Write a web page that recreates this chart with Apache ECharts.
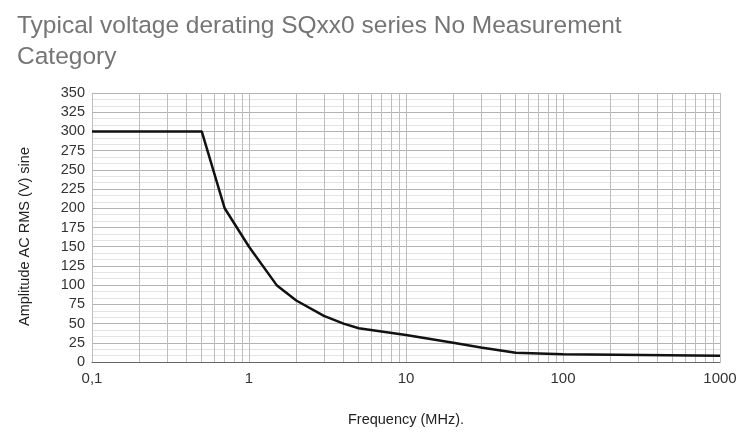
<!DOCTYPE html>
<html>
<head>
<meta charset="utf-8">
<script src="https://cdn.jsdelivr.net/npm/echarts@6/dist/echarts.min.js"></script>
<style>
  html, body { margin: 0; padding: 0; background: #fff; }
  #chart { width: 753px; height: 434px; }
</style>
</head>
<body>
<div id="chart"></div>
<script>
// data
const frequency = [0.1, 0.5, 0.7, 1, 1.5, 2, 3, 4, 5, 10, 20, 30, 50, 100, 1000];
const amplitude = [300, 300, 200, 150, 100, 80, 60, 50, 44, 35, 25, 19, 12, 10, 8];
const decades = [0.1, 1, 10, 100];
const steps = [2, 3, 4, 5, 6, 7, 8, 9];

window.addEventListener('DOMContentLoaded', function() {
    initChart();
});

function initChart() {
    const myChart = echarts.init(document.getElementById('chart'));

    // thin vertical lines between the decades
    const minorLines = [];
    decades.forEach(d => {
        steps.forEach(s => {
            minorLines.push({ xAxis: +(d * s).toPrecision(3) });
        });
    });

    const option = {
        backgroundColor: '#fff',
        textStyle: { fontFamily: 'Liberation Sans, Arial, sans-serif' },
        title: {
            text: 'Typical voltage derating SQxx0 series No Measurement\nCategory',
            left: 12,
            top: 6,
            textStyle: {
                fontSize: 24.5,
                fontWeight: 'normal',
                color: '#757575',
                lineHeight: 31
            }
        },
        grid: {
            left: 92,
            right: 33,
            top: 93,
            bottom: 72
        },
        xAxis: {
            type: 'log',
            logBase: 10,
            min: 0.1,
            max: 1000,
            name: 'Frequency (MHz).',
            nameLocation: 'middle',
            nameGap: 50,
            nameTextStyle: { fontSize: 14.5, color: '#222' },
            axisLine: { lineStyle: { color: '#666', width: 1 } },
            axisTick: { show: false },
            axisLabel: {
                fontSize: 15,
                color: '#333',
                margin: 9,
                formatter: v => String(v).replace('.', ',')
            },
            splitLine: { show: true, lineStyle: { color: '#bdbdbd', width: 1 } }
        },
        yAxis: {
            type: 'value',
            min: 0,
            max: 350,
            interval: 25,
            name: 'Amplitude AC RMS (V) sine',
            nameLocation: 'middle',
            nameGap: 60,
            nameTextStyle: { fontSize: 14.5, color: '#222', padding: [0, 18, 0, 0] },
            axisLine: { show: true, lineStyle: { color: '#bdbdbd' } },
            axisTick: { show: false },
            axisLabel: { fontSize: 14.5, color: '#333', margin: 7 },
            splitLine: { show: true, lineStyle: { color: '#b3b3b3', width: 1 } },
            minorTick: { show: false, splitNumber: 3 },
            minorSplitLine: { show: true, lineStyle: { color: '#e3e3e3', width: 1 } }
        },
        series: [
            {
                name: 'grid',
                type: 'line',
                data: [],
                z: 1,
                silent: true,
                markLine: {
                    silent: true,
                    symbol: 'none',
                    label: { show: false },
                    lineStyle: { type: 'solid', color: '#bdbdbd', width: 1 },
                    data: minorLines
                }
            },
            {
                name: 'Amplitude',
                type: 'line',
                z: 5,
                data: frequency.map((f, i) => [f, amplitude[i]]),
                showSymbol: false,
                lineStyle: { color: '#111', width: 2.5 }
            }
        ]
    };

    myChart.setOption(option);
}
</script>
</body>
</html>
